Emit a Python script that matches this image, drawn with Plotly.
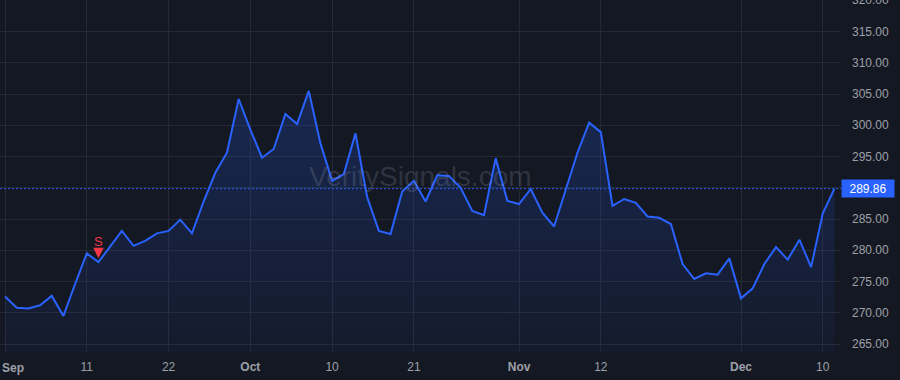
import pandas as pd
import plotly.graph_objects as go

# ---- data ----
trading_days = [d.strftime("%Y-%m-%d") for d in pd.bdate_range("2025-09-02", "2025-12-11")
                if d.strftime("%Y-%m-%d") != "2025-11-27"]
prices = [272.6, 270.8, 270.7, 271.2, 272.7, 269.5, 274.6, 279.5, 278.1, 280.7,
          283.1, 280.7, 281.5, 282.7, 283.1, 284.9, 282.7, 287.8, 292.4, 295.6,
          304.2, 299.3, 294.8, 296.2, 301.8, 300.2, 305.5, 297.1, 291.1, 292.2,
          298.7, 288.5, 283.1, 282.6, 289.4, 291.1, 287.8, 292.0, 291.9, 290.0,
          286.3, 285.6, 294.7, 287.9, 287.4, 289.8, 286.0, 283.8, 289.9, 295.6,
          300.4, 298.9, 287.1, 288.2, 287.6, 285.4, 285.2, 284.2, 277.8, 275.4,
          276.3, 276.1, 278.7, 272.3, 273.9, 277.8, 280.5, 278.5, 281.7, 277.3,
          285.9, 289.86]
tick_dates = ["2025-09-02", "2025-09-11", "2025-09-22", "2025-10-01", "2025-10-10",
              "2025-10-21", "2025-11-03", "2025-11-12", "2025-12-01", "2025-12-10"]
tick_labels = ["Sep", "11", "22", "Oct", "10", "21", "Nov", "12", "Dec", "10"]
month_labels = {"Sep", "Oct", "Nov", "Dec"}
y_ticks = [265, 270, 275, 280, 285, 290, 295, 300, 305, 310, 315, 320]
signal_dates = ["2025-09-12"]
signal_labels = ["S"]

BG = "#141823"
GRID = "#252935"
BLUE = "#2962FF"
RED = "#F23645"
TXT = "#9DA0A8"
FONT = "Liberation Sans, Arial, sans-serif"

x = list(range(len(prices)))
last = prices[-1]

fig = go.Figure()
fig.add_trace(go.Scatter(
    x=x, y=prices, mode="lines",
    line=dict(color=BLUE, width=2),
    fill="tozeroy",
    fillgradient=dict(type="vertical", start=263.7, stop=306,
                      colorscale=[[0, "rgba(41,98,255,0.04)"], [1, "rgba(41,98,255,0.22)"]]),
    hoverinfo="skip", showlegend=False,
))

# last price dotted line
fig.add_shape(type="line", xref="paper", x0=0, x1=1, yref="y", y0=last, y1=last,
              line=dict(color="rgba(41,98,255,0.9)", width=1, dash="2px,2px"), layer="above")

# signal markers
for d, lab in zip(signal_dates, signal_labels):
    i = trading_days.index(d)
    fig.add_annotation(x=i, y=prices[i], xref="x", yref="y", text=lab,
                       showarrow=True, arrowhead=2, arrowsize=0.7, arrowwidth=3,
                       arrowcolor=RED, ax=0, ay=-21, standoff=4,
                       font=dict(family=FONT, size=13, color=RED))

# price label
fig.add_annotation(xref="paper", x=1, yref="y", y=last, xanchor="left", yanchor="middle",
                   text=f"{last:.2f}", showarrow=False, bgcolor=BLUE, borderpad=2,
                   width=48, height=13, align="center",
                   font=dict(family=FONT, size=12, color="white"))

# watermark
fig.add_annotation(xref="paper", yref="paper", x=0.5, y=0.5, text="VeritySignals.com",
                   showarrow=False, font=dict(family=FONT, size=28, color="rgba(150,155,170,0.22)"))

tick_idx = [trading_days.index(d) for d in tick_dates]
x_ticktext = []
for j, lab in enumerate(tick_labels):
    txt = f"<b>{lab}</b>" if lab in month_labels else lab
    if j == 0 and tick_idx[0] == 0:
        # first label would overflow the left edge; drawn as left-aligned annotation instead
        fig.add_annotation(xref="paper", yref="paper", x=0, y=0, xanchor="left", yanchor="top",
                           yshift=-7, text=txt, showarrow=False,
                           font=dict(family=FONT, size=12, color=TXT))
        txt = ""
    x_ticktext.append(txt)

y_ticktext = ["" if abs(v - last) < 2.5 else f"{v:.2f}" for v in y_ticks]

fig.update_layout(
    width=900, height=380,
    margin=dict(l=0, r=59, t=0, b=28, autoexpand=False),
    paper_bgcolor=BG, plot_bgcolor=BG,
    font=dict(family=FONT, size=12, color=TXT),
    xaxis=dict(range=[-0.43, 71.56], tickmode="array", tickvals=tick_idx, ticktext=x_ticktext,
               showgrid=True, gridcolor=GRID, gridwidth=1, zeroline=False, showline=False,
               automargin=False,
               ticks="", ticklabelstandoff=6, tickfont=dict(size=12, color=TXT)),
    yaxis=dict(side="right", range=[263.72, 320.04], tickmode="array", tickvals=y_ticks,
               ticktext=y_ticktext, ticklabeloverflow="allow", automargin=False,
               showgrid=True, gridcolor=GRID, gridwidth=1, zeroline=False,
               showline=False, ticks="", ticklabelstandoff=10, tickfont=dict(size=12, color=TXT)),
    hovermode=False,
)

fig.write_html("out.html")
